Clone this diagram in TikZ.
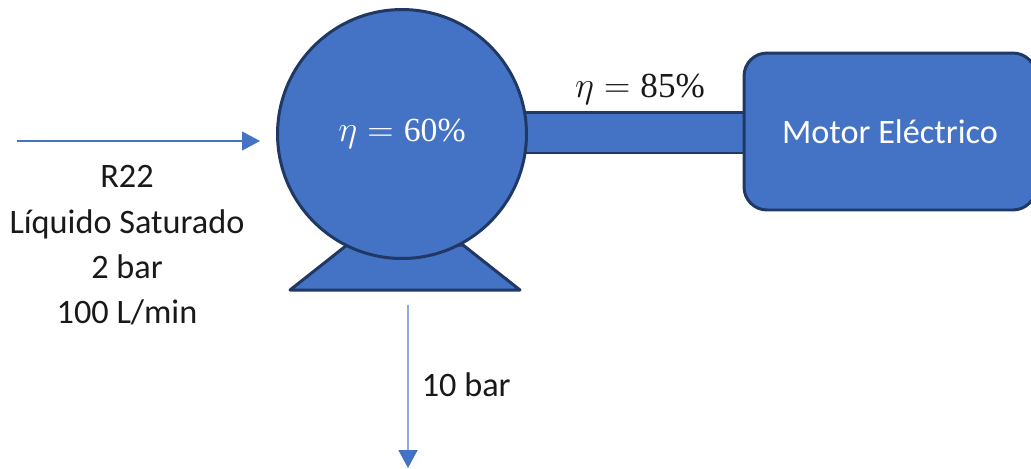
\documentclass[tikz,border=0pt]{standalone}
\usepackage{amsmath}
\usepackage{fontspec}
\setmainfont{Carlito}
\newfontfamily\numfont{Liberation Serif}
\usetikzlibrary{arrows.meta}
\definecolor{pumpblue}{HTML}{4472C4}
\definecolor{edgeblue}{HTML}{1F3864}
\definecolor{pipeblue}{HTML}{8FAADC}
\tikzset{
  equip/.style={draw=edgeblue, line width=1.7pt, fill=pumpblue, text=white, inner sep=0pt},
  flowtip/.style={-{Triangle[length=0.36cm,width=0.38cm,color=pumpblue]}},
  lbl/.style={font=\fontsize{19.5}{25.8}\selectfont, text=black!90, inner sep=0pt}
}

\begin{document}
\begin{tikzpicture}[x=0.02cm, y=-0.02cm]
  \useasboundingbox (0,0) rectangle (1031,468);
  \draw[equip, line join=round] (290,290) -- (347,245) -- (463,245) -- (520,290) -- cycle;
  \node[equip, rectangle, minimum width=4.46cm, minimum height=0.82cm] (shaft) at (635,132.5) {};
  \node[equip, circle, minimum size=4.98cm, font=\fontsize{19.2}{20}\selectfont] (pump) at (402,134) {\raisebox{-0.06cm}{$\eta=\text{\numfont 60\%}$}};
  \node[equip, rectangle, rounded corners=0.46cm, minimum width=5.84cm, minimum height=3.14cm, font=\fontsize{19.5}{20}\selectfont] (motor) at (890,131.5) {Motor Eléctrico};
  \node[lbl, font=\fontsize{20}{25.8}\selectfont] (eff) at (640,89) {$\eta=\text{\numfont 85\%}$};
  \coordinate (inA) at (17,141);
  \coordinate (inB) at (260,141);
  \draw[flowtip, draw=pumpblue, line width=0.6pt] (inA) -- (inB);
  \coordinate (outA) at (408,305);
  \coordinate (outB) at (408,468);
  \draw[flowtip, draw=pipeblue, line width=1pt] (outA) -- (outB);
  \node[lbl, align=center] (feed) at (127,245.5) {R22\\Líquido Saturado\\2 bar\\100 L/min};
  \node[lbl, anchor=west] (press) at (421.5,385) {10 bar};
\end{tikzpicture}
\end{document}
